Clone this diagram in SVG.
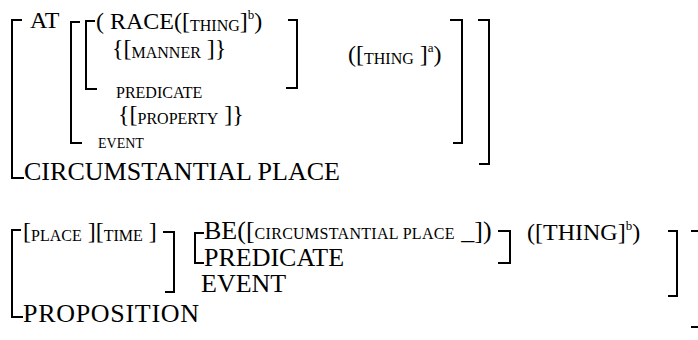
<svg xmlns="http://www.w3.org/2000/svg" width="698" height="340" viewBox="0 0 698 340">
  <style>
    text { font-family: "Liberation Serif", "Times New Roman", serif; fill: #000; }
    .lg { font-size: 26px; }
    .md { font-size: 24px; }
    .sc { font-size: 16px; }
    .xs { font-size: 14px; }
    .sup { font-size: 13px; }
    .br { fill: none; stroke: #000; stroke-width: 2; }
  </style>
  <rect width="698" height="340" fill="#fff"/>

  <!-- Upper structure: circumstantial place -->
  <g id="circumstantial-place">
    <g id="brackets-upper">
      <path class="br" d="M22,20 H12 V178 H24"/>
      <path class="br" d="M80,22 H71 V143 H82"/>
      <path class="br" d="M95,21 H86 V89 H97"/>
      <path class="br" d="M288,20 H297 V88 H286"/>
      <path class="br" d="M450,20 H462 V143 H453"/>
      <path class="br" d="M478,20 H489 V164 H479"/>
    </g>
    <text id="at" class="md" x="30" y="28">AT</text>
    <text id="race" class="md" x="96" y="29">( RACE([<tspan class="sc" dy="2">THING</tspan><tspan dy="-2">]</tspan><tspan class="sup" dy="-10">b</tspan><tspan dy="10">)</tspan></text>
    <text id="manner" class="md" x="112" y="56">{[<tspan class="sc" dy="2">MANNER</tspan><tspan dy="-2"> ]}</tspan></text>
    <text id="predicate-sm" class="sc" x="116" y="98">PREDICATE</text>
    <text id="property" class="md" x="118" y="122">{[<tspan class="sc" dy="2">PROPERTY</tspan><tspan dy="-2"> ]}</tspan></text>
    <text id="event-sm" class="xs" x="98" y="148">EVENT</text>
    <text id="thing-a" class="md" x="348" y="62">([<tspan class="sc" dy="2">THING</tspan><tspan dy="-2"> ]</tspan><tspan class="sup" dy="-10">a</tspan><tspan dy="10">)</tspan></text>
    <text id="circ-place" class="lg" x="24" y="180" textLength="316">CIRCUMSTANTIAL PLACE</text>
  </g>

  <!-- Lower structure: proposition -->
  <g id="proposition">
    <g id="brackets-lower">
      <path class="br" d="M21,230 H12 V317 H23"/>
      <path class="br" d="M163,232 H174 V292 H165"/>
      <path class="br" d="M204,233 H195 V263 H204"/>
      <path class="br" d="M498,231 H510 V263 H498"/>
      <path class="br" d="M668,231 H677 V296 H668"/>
      <path class="br" d="M691,231 H698"/>
      <path class="br" d="M691,327 H698"/>
    </g>
    <text id="place-time" class="md" x="23" y="239">[<tspan class="sc" dy="2">PLACE</tspan><tspan dy="-2"> ][</tspan><tspan class="sc" dy="2">TIME</tspan><tspan dy="-2"> ]</tspan></text>
    <text id="be" class="lg" x="204" y="239">BE([<tspan class="sc" textLength="200">CIRCUMSTANTIAL PLACE</tspan> _])</text>
    <text id="predicate" class="lg" x="204" y="266">PREDICATE</text>
    <text id="event" class="lg" x="201" y="292">EVENT</text>
    <text id="thing-b" class="md" x="527" y="240">([THING]<tspan class="sup" dy="-10">b</tspan><tspan dy="10">)</tspan></text>
    <text id="prop" class="lg" x="23" y="322" textLength="176">PROPOSITION</text>
  </g>
</svg>
